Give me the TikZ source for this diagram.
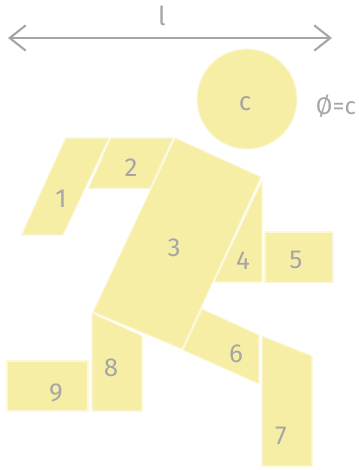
\documentclass[tikz,border=0pt]{standalone}
\usepackage{fontspec}
\setmainfont{Fira Sans}
\usetikzlibrary{arrows.meta}
\definecolor{partfill}{HTML}{F7EEA6}
\definecolor{partedge}{HTML}{FBF7D8}
\definecolor{labelgray}{HTML}{A6A6A6}
\tikzset{part/.style={fill=partfill,draw=partedge,line width=0.8pt,line join=round},
	partlabel/.style={text=labelgray,font=\fontsize{19.5}{19.5}\selectfont,inner sep=0pt}}
\begin{document}
\begin{tikzpicture}[x=0.75pt,y=-0.75pt,line join=round,>={Straight Barb[length=12pt,width=19pt,line width=1.6pt]}]
	\useasboundingbox (0,0) rectangle (359,470);
	\coordinate (lleft) at (8,38);
	\coordinate (lright) at (332,38);
	\draw[<->,labelgray,line width=1.6pt] (lleft)--(lright);
	\node[partlabel] (lenlabel) at (162,16) {l};
	% head
	\draw[part] (247,99) circle (50);
	\node[partlabel] (headlabel) at (245,104) {c};
	\node[partlabel,font=\fontsize{18}{18}\selectfont] (diamlabel) at (336,106) {Ø=c};
	% arm
	\draw[part] (65.5,138)--(109,138)--(63,235)--(21.5,235)--cycle;
	\draw[part] (110.5,138)--(173,138)--(150,188.5)--(88.5,188.5)--cycle;
	\draw[part] (175,138)--(261,177)--(182,349)--(93,312)--cycle;
	\draw[part] (262,181)--(262,282)--(214,282)--cycle;
	\draw[part] (265,232)--(333,232)--(333,282.5)--(265,282.5)--cycle;
	% legs
	\draw[part] (202,309)--(259,335)--(259,384)--(183,350)--cycle;
	\draw[part] (262,336)--(312,356)--(312,466)--(262,466)--cycle;
	\draw[part] (92,313)--(142,336)--(142,411)--(92,411)--cycle;
	\draw[part] (7,361)--(88,361)--(88,411)--(7,411)--cycle;
	\foreach \name/\pos/\txt in {one/{61,199}/1,two/{131,168}/2,three/{174,248}/3,four/{243,261}/4,
		five/{296,260}/5,six/{236,354}/6,seven/{281,436}/7,eight/{111,368}/8,nine/{56,393}/9}
		\node[partlabel] (\name) at (\pos) {\txt};
\end{tikzpicture}
\end{document}
